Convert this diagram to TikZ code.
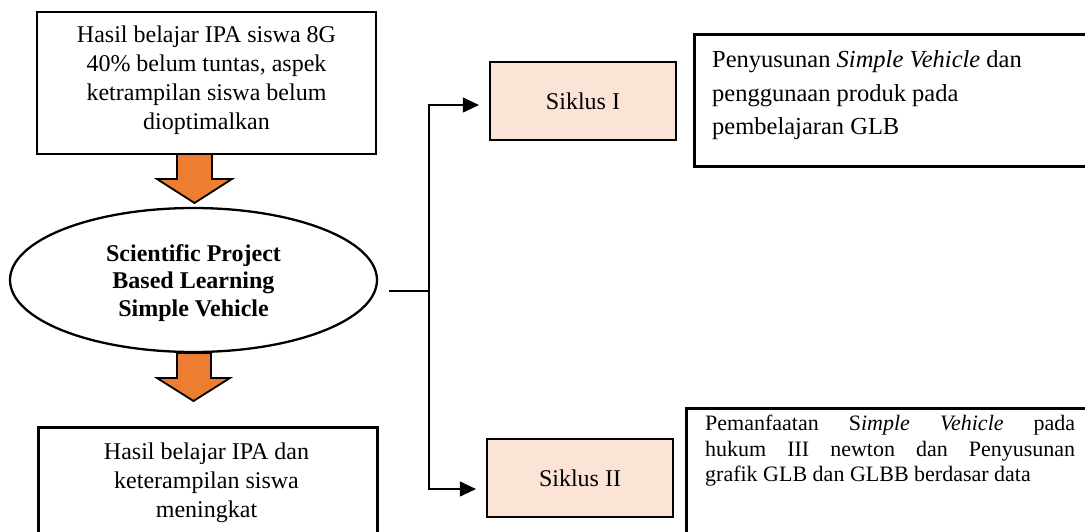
\documentclass[tikz,border=0pt]{standalone}
\usepackage{fontspec}
\setmainfont{Liberation Serif}
\usetikzlibrary{arrows.meta,shapes.geometric}
\definecolor{orangeA}{HTML}{ED7D31}
\definecolor{peach}{HTML}{FBE4D5}
\begin{document}
\begin{tikzpicture}[x=1pt,y=-1pt,
  bigbox/.style={draw=black,line width=2.7pt,rectangle,inner sep=0pt,fill=white},
  siklus/.style={draw=black,line width=2.2pt,fill=peach,minimum width=186pt,minimum height=78pt,inner sep=0pt,font=\fontsize{24}{28}\selectfont},
  txt/.style={inner sep=0pt,font=\fontsize{24}{29}\selectfont},
  conn/.style={line width=1.1pt},
  arr/.style={conn,-{Triangle[length=16pt,width=15pt]},shorten >=10pt},
  blockarrow/.style={fill=orangeA,draw=black,line width=1.8pt,line join=miter}]
\useasboundingbox (0,0) rectangle (1085,531);
\clip (0,0) rectangle (1085,531);

% left column
\node[bigbox,minimum width=339pt,minimum height=142pt] (top) at (206.5,83) {};
\node[txt,align=center] (toptxt) at (206.5,80) {Hasil belajar IPA siswa 8G\\40\% belum tuntas, aspek\\ketrampilan siswa belum\\dioptimalkan};

\draw[blockarrow] (177,154) -- (212,154) -- (212,179) -- (232,179) -- (194.5,203) -- (157,179) -- (177,179) -- cycle;

\node[draw=black,ellipse,line width=2.3pt,minimum width=367pt,minimum height=144pt,inner sep=0pt,fill=white] (ell) at (193.5,280) {};
\node[inner sep=0pt,align=center,font=\fontsize{24}{27.5}\selectfont\bfseries] (elltxt) at (193.5,283)
      {Scientific Project\\Based Learning\\Simple Vehicle};

\draw[blockarrow] (177,353) -- (211,353) -- (211,378) -- (230,378) -- (193.5,401) -- (157,378) -- (177,378) -- cycle;

\node[bigbox,minimum width=339pt,minimum height=140pt,anchor=north west] (bot) at (37,426) {};
\node[txt,align=center,anchor=north] (bottxt) at (206.5,442.5) {Hasil belajar IPA dan\\keterampilan siswa\\meningkat};

% connectors
\coordinate (s) at (389,291);
\coordinate (j) at (429,291);

% siklus boxes
\node[siklus] (sik1) at (583,101) {Siklus I};
\node[siklus] (sik2) at (580,478) {Siklus II};

\draw[conn] (s) -- (j);
\draw[arr] (j) |- ([yshift=-4pt]sik1.west);
\draw[arr] (j) |- ([yshift=-11pt]sik2.west);

% right boxes
\node[bigbox,minimum width=440pt,minimum height=132pt,anchor=north west] (r1) at (693,33) {};
\node[inner sep=0pt,align=left,anchor=north west,font=\fontsize{24.5}{33.5}\selectfont] (r1txt) at (712,50.5)
  {Penyusunan \textit{Simple Vehicle} dan\\penggunaan produk pada\\pembelajaran GLB};

\node[bigbox,minimum width=440pt,minimum height=160pt,anchor=north west] (r2) at (685,407) {};
\node[inner sep=0pt,align=left,anchor=north west,font=\fontsize{22}{25.5}\selectfont] (r2txt) at (705,415)
  {\hbox to 370pt{Pemanfaatan\hfill S\textit{imple}\hfill\textit{Vehicle}\hfill pada}\\
   \hbox to 370pt{hukum\hfill III\hfill newton\hfill dan\hfill Penyusunan}\\
   grafik GLB dan GLBB berdasar data};
\end{tikzpicture}
\end{document}
